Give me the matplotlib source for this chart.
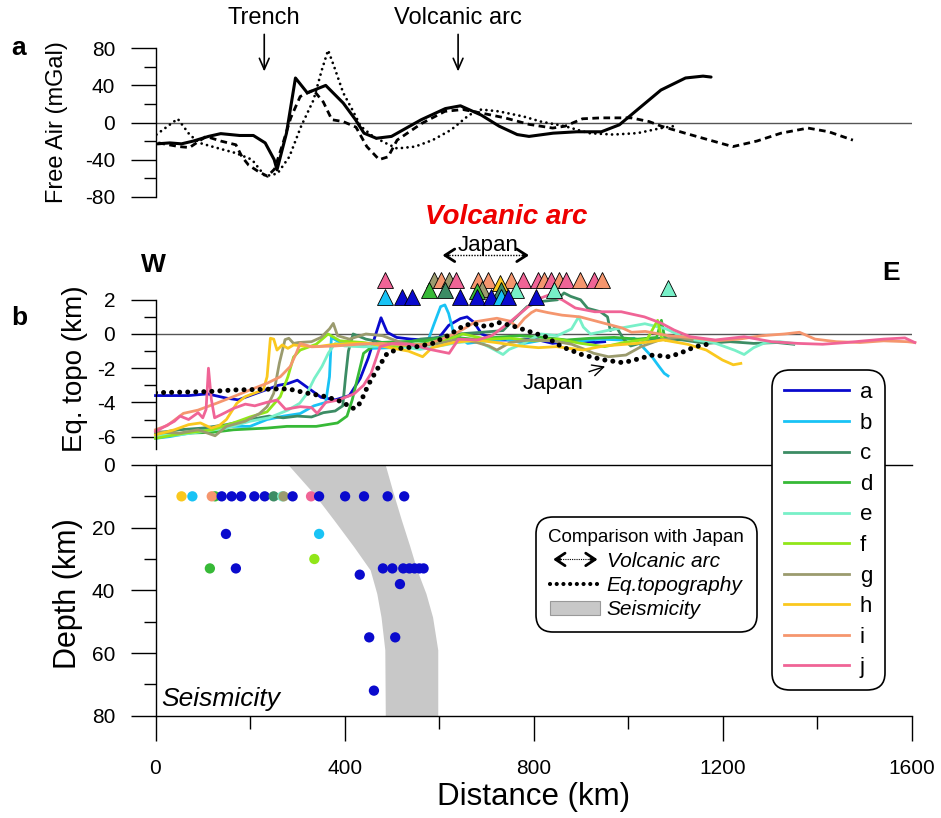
import numpy as np
import matplotlib.pyplot as plt
from matplotlib.lines import Line2D
from matplotlib.patches import Patch, FancyArrowPatch
from matplotlib.legend_handler import HandlerBase
from matplotlib.ticker import FixedLocator

plt.rcParams['font.family'] = ['Liberation Sans', 'DejaVu Sans']
plt.rcParams['axes.unicode_minus'] = False

# ---------------- (a) free-air gravity profiles ----------------
fa_solid_km = [4, 30, 55, 80, 112, 138, 178, 207, 232, 251, 257, 277, 296, 321, 360, 397, 423, 441, 467,
               499, 562, 613, 645, 689, 727, 765, 790, 841, 891, 943, 981, 1019, 1069, 1121, 1158, 1175]
fa_solid = [-23, -22, -23, -20, -15, -12, -14, -14, -22, -40, -51, -11.5, 48, 32, 40, 21, 3, -11.5, -17,
            -15, 3, 15, 18, 8, -4, -13, -15, -11.5, -10, -10, -2.5, 13.7, 35, 48, 50, 49]

fa_dash_km = [6, 50, 72, 107, 138, 170, 183, 197, 218, 237, 252, 271, 286, 306, 334, 355, 373, 397, 424,
              447, 473, 492, 511, 563, 612, 650, 691, 739, 790, 840, 866, 903, 942, 1006, 1044, 1070, 1120,
              1172, 1221, 1272, 1323, 1380, 1424, 1475]
fa_dash = [-22, -26, -27, -15, -20, -24, -37, -46, -53, -58, -50, -20, 5, 28, 35, 22, 3, 1, -5,
           -26, -40, -37, -19, -1, 12, 14, 10, 5, -2, -6, -4, 4, 5, 5, 1, -4, -11.5,
           -19, -26, -20, -11.5, -6, -10, -19]

fa_dot_km = [2, 47, 72, 93, 120, 170, 204, 232, 258, 283, 308, 334, 352, 365, 378, 397, 416, 434, 460,
             486, 511, 549, 586, 625, 663, 689, 726, 778, 815, 866, 917, 968, 1019, 1070, 1095]
fa_dot = [-13, 4, -13, -22, -26, -33, -40, -58, -55, -37, -4, 24, 57, 78, 60, 32, 14, -4, -15,
          -22, -28, -26, -19, -8, 8, 14, 12, 6.5, 1, -4, -11.5, -13, -11.5, -6, -4]

fa_ticks = [-80, -40, 0, 40, 80]
trench_km = 230
arc_km = 640

# ---------------- (b) equivalent topography profiles ----------------
a_km = [0, 30, 70, 110, 150, 175, 200, 230, 260, 280, 300, 325, 350, 380, 410, 433, 450, 466, 477, 490, 510,
        540, 570, 600, 620, 645, 659, 673, 690, 720, 750, 780, 810, 840, 870, 900, 930, 950]
a_topo = [-3.6, -3.6, -3.6, -3.5, -3.75, -3.85, -3.6, -3.3, -3.0, -2.9, -2.7, -3.2, -3.7, -3.85, -3.6, -2.6,
          -1.4, 0.0, 0.95, 0.1, -0.2, -0.3, -0.35, -0.2, 0.5, 0.9, 1.0, 0.7, 0.0, -0.35, -0.35, -0.3, -0.35,
          -0.55, -0.45, -0.4, -0.5, -0.45]

b_km = [0, 30, 70, 110, 165, 200, 236, 271, 306, 335, 360, 368, 372, 390, 430, 460, 500, 540, 575, 588,
        603, 612, 620, 630, 660, 700, 740, 780, 820, 860, 900, 940, 985, 1012, 1030, 1050, 1065, 1076, 1084]
b_topo = [-6.1, -6.0, -5.8, -5.6, -5.4, -5.4, -5.0, -4.8, -4.65, -4.2, -4.0, -2.5, -0.2, -0.5, -0.6, -0.84,
          -0.8, -0.7, -0.5, 0.5, 1.6, 1.7, 1.2, 0.1, -0.55, -0.4, -0.3, -0.55, -0.35, -0.45, -0.4, -0.3,
          -0.35, -0.25, -0.74, -1.33, -1.9, -2.3, -2.45]

c_km = [0, 50, 100, 150, 200, 240, 270, 300, 330, 355, 380, 396, 402, 408, 418, 445, 480, 520, 560, 600,
        640, 690, 735, 760, 786, 815, 850, 864, 878, 899, 914, 941, 956, 962, 975, 990, 1005, 1030, 1065,
        1115, 1165, 1215, 1265, 1315, 1350]
c_topo = [-5.8, -5.6, -5.5, -5.3, -5.0, -4.8, -4.9, -4.8, -4.85, -4.6, -4.5, -4.2, -2.5, -1.0, 0.0, -0.3,
          -0.5, -0.6, -0.3, -0.2, 0.0, 0.1, 0.2, 0.9, 1.6, 1.9, 2.0, 2.4, 2.2, 2.0, 1.5, 1.3, 1.0, 0.2, 0.4,
          -0.3, -0.7, -0.5, -0.25, -0.35, -0.55, -0.45, -0.55, -0.5, -0.6]

d_km = [0, 60, 120, 165, 236, 278, 306, 340, 385, 405, 416, 428, 440, 470, 520, 570, 620, 670, 720, 770,
        820, 870, 920, 970, 1020, 1060, 1070, 1076, 1082]
d_topo = [-5.9, -5.8, -5.75, -5.6, -5.5, -5.4, -5.4, -5.4, -5.2, -4.8, -3.86, -2.5, -1.13, -0.5, -0.45,
          -0.4, -0.16, -0.3, -0.2, -0.1, -0.2, -0.35, -0.25, -0.2, -0.3, -0.2, 0.8, -0.1, -0.3]

e_km = [0, 50, 100, 150, 200, 240, 280, 305, 320, 336, 352, 366, 380, 400, 440, 480, 520, 560, 600, 640,
        680, 715, 735, 748, 775, 815, 850, 880, 895, 905, 920, 955, 995, 1035, 1080, 1110, 1140, 1180,
        1225, 1245, 1265, 1290, 1320, 1350]
e_topo = [-5.95, -5.9, -5.7, -5.5, -5.1, -4.9, -4.45, -4.05, -3.5, -2.6, -1.9, -1.1, -0.55, -0.7, -0.75,
          -0.7, -0.75, -0.9, -0.7, -0.5, -0.4, -0.9, -1.2, -0.9, -0.6, 0.0, -0.1, 0.3, 1.0, 0.4, 0.0, 0.2,
          0.4, 0.6, 0.3, -0.1, -0.35, -0.5, -0.95, -1.2, -0.8, -0.5, -0.45, -0.55]

f_km = [0, 60, 120, 165, 200, 236, 264, 280, 292, 306, 340, 365, 390, 440, 500, 560, 610, 650, 700, 750,
        800, 850, 900, 950, 990, 1040, 1062, 1070, 1078]
f_topo = [-6.1, -5.8, -5.6, -5.2, -4.85, -4.55, -3.66, -2.5, -1.35, -0.94, -0.6, 0.0, -0.4, -0.5, -0.74,
          -0.6, -0.4, 0.0, -0.3, -0.25, -0.4, -0.3, -0.55, -0.74, -0.5, -0.3, 0.8, -0.2, -0.35]

g_km = [0, 50, 90, 126, 150, 190, 220, 236, 250, 262, 274, 282, 292, 302, 330, 350, 368, 376, 385, 410,
        445, 480, 520, 560, 600, 640, 680, 705, 722, 750, 790, 840, 880, 908, 927, 958, 995, 1027, 1066,
        1106, 1135]
g_topo = [-5.7, -5.8, -5.6, -5.95, -5.4, -5.1, -4.65, -4.25, -3.47, -1.7, -0.33, -0.25, -0.55, -0.5, -0.45,
          -0.2, 0.3, 0.62, -0.1, -0.3, 0.0, -0.1, -0.5, -0.7, -0.55, -0.3, -0.5, -0.7, -0.94, -0.5, -0.35,
          -0.4, -0.6, -0.9, -1.13, -1.33, -1.23, -0.74, -0.35, -0.2, -0.35]

h_km = [0, 40, 70, 95, 118, 135, 150, 172, 190, 205, 228, 236, 243, 250, 257, 268, 280, 292, 310, 342, 380,
        420, 456, 495, 535, 565, 585, 630, 677, 720, 770, 810, 848, 904, 948, 1018, 1074, 1125, 1165, 1199,
        1222, 1238]
h_topo = [-5.9, -5.6, -5.3, -5.2, -5.5, -5.35, -5.0, -4.05, -3.66, -3.5, -3.27, -2.5, -0.25, -0.3, -0.94,
          -0.64, -0.84, -0.64, -0.7, -0.74, -0.6, -0.55, -0.55, -0.8, -1.0, -1.33, -0.8, -0.5, -0.35, -0.5,
          -0.7, -0.8, -0.74, -0.94, -0.7, -0.55, -0.35, -0.6, -0.94, -1.52, -1.8, -1.72]

i_km = [0, 25, 59, 90, 129, 165, 200, 236, 264, 285, 298, 306, 330, 380, 430, 480, 530, 575, 605, 632, 652,
        677, 722, 750, 765, 780, 795, 805, 830, 860, 898, 950, 987, 1007, 1036, 1085, 1131, 1185, 1234,
        1283, 1330, 1362, 1395, 1440, 1490, 1540, 1590, 1606]
i_topo = [-5.6, -5.35, -4.64, -4.45, -4.05, -3.66, -3.27, -2.88, -2.5, -1.9, -1.1, -0.55, -0.75, -0.7, -0.6,
          -0.55, -0.65, -0.6, -0.3, 0.0, 0.3, 0.72, 0.92, 0.75, 0.4, 0.9, 1.25, 1.4, 1.25, 1.1, 1.0, 0.62,
          0.35, 0.1, 0.15, -0.1, -0.2, -0.4, -0.3, -0.1, 0.0, 0.1, -0.3, -0.45, -0.5, -0.4, -0.45, -0.5]

j_km = [0, 20, 40, 52, 70, 90, 100, 107, 112, 118, 125, 140, 165, 190, 210, 235, 257, 275, 306, 330, 342,
        360, 387, 420, 440, 456, 475, 500, 540, 580, 621, 641, 681, 711, 746, 780, 805, 832, 860, 888, 929,
        985, 1034, 1069, 1097, 1131, 1184, 1245, 1303, 1358, 1411, 1461, 1500, 1540, 1585, 1606]
j_topo = [-5.7, -5.4, -5.1, -4.8, -5.0, -4.6, -4.9, -4.4, -2.0, -3.8, -4.9, -4.7, -4.35, -4.1, -4.2, -4.0,
          -3.86, -4.4, -4.25, -4.3, -4.64, -4.0, -3.86, -3.5, -3.0, -2.3, -0.74, -0.55, -0.6, -0.9, -1.13,
          -0.3, -0.35, -0.1, 0.62, 1.4, 2.0, 2.28, 2.0, 1.52, 1.3, 1.3, 1.0, 0.64, 0.23, -0.16, -0.35,
          -0.16, -0.45, -0.55, -0.6, -0.5, -0.4, -0.3, -0.23, -0.5]

japan_km = [0, 111, 167, 224, 269, 292, 315, 360, 394, 417, 428, 439, 450, 468, 490, 518, 553, 586, 621, 654,
            677, 700, 727, 756, 791, 825, 859, 904, 950, 989, 1018, 1052, 1086, 1109, 1142, 1171]
japan_topo = [-3.43, -3.37, -3.27, -3.24, -3.2, -3.27, -3.43, -3.66, -3.96, -4.35, -4.25, -3.66, -2.98, -2.1,
              -1.13, -0.84, -0.74, -0.55, -0.06, 0.53, 0.58, 0.43, 0.66, 0.47, 0.14, -0.16, -0.74, -1.23,
              -1.52, -1.68, -1.48, -1.23, -1.33, -1.13, -0.74, -0.58]

profile_labels = list('abcdefghij')
profile_colors = ['#0A0ACD', '#19C3F5', '#3C8C64', '#37B937', '#78F0C8',
                  '#91E619', '#9B9B6E', '#FAC81E', '#F5966E', '#F06496']
profile_km = [a_km, b_km, c_km, d_km, e_km, f_km, g_km, h_km, i_km, j_km]
profile_topo = [a_topo, b_topo, c_topo, d_topo, e_topo, f_topo, g_topo, h_topo, i_topo, j_topo]

# volcanoes (km, elevation row, profile)
volc_km = [486, 588, 603, 620, 636, 682, 703, 751, 778, 808, 822, 837, 853, 869, 897, 928, 945, 728,
           578, 613, 690, 680, 731, 762, 843, 1083,
           485, 521, 543, 644, 680, 709, 730, 745, 804]
volc_row = [3.15] * 17 + [3.0] + [2.6, 2.55, 2.65, 2.5, 2.55, 2.6, 2.6, 2.7] + [2.15] * 9
volc_prof = list('jgigjiiijjijijiji') + ['h'] + list('dcgdceee') + list('baaaaabaa')

# ---------------- (c) seismicity ----------------
eq_km = [55, 78, 126, 119, 140, 161, 181, 209, 231, 250, 268, 271, 290, 329, 346, 401, 441, 491, 526,
         149, 346, 336, 115, 170, 481, 501, 524, 537, 548, 558, 567, 432, 517, 452, 507, 462]
eq_depth = [10] * 19 + [22, 22, 30, 33, 33, 33, 33, 33, 33, 33, 33, 33, 35, 38, 55, 55, 72]
eq_prof = list('hbdiaaaaacegajaaaaa') + list('abfd') + ['a'] * 13

band_depth = [0, 9, 17.5, 26, 33.5, 41, 48.5, 59, 80]
band_left = [281, 334, 377, 419, 454, 468, 477, 485, 486]
band_right = [486, 503, 520, 538, 553, 572, 586, 597, 597]

dist_ticks = [0, 400, 800, 1200, 1600]

# ---------------- figure ----------------
W, H = 941, 818
fig = plt.figure(figsize=(W / 100, H / 100), dpi=100)


def px_axes(x0, y0, x1, y1):
    return fig.add_axes([x0 / W, 1 - y1 / H, (x1 - x0) / W, (y1 - y0) / H])


ax_a = px_axes(155.5, 48.3, 912, 196.7)
ax_b = px_axes(155.5, 255.3, 912, 448.6)
ax_c = px_axes(155.5, 465, 912, 715.7)

for ax in (ax_a, ax_b, ax_c):
    ax.set_xlim(0, 1600)
    ax.patch.set_alpha(0)
    ax.tick_params(which='major', direction='out', length=18, width=1.0, labelsize=15, pad=11)
    ax.tick_params(which='minor', direction='out', length=9, width=1.0)
    for s in ax.spines.values():
        s.set_linewidth(1.0)
    ax.spines['right'].set_visible(False)

for ax in (ax_a, ax_b):
    ax.spines['top'].set_visible(False)
    ax.spines['bottom'].set_visible(False)
    ax.tick_params(axis='x', which='both', bottom=False, labelbottom=False)
    ax.axhline(0, color='#555555', lw=1.0, zorder=1)

# panel a
ax_a.set_ylim(-80, 80)
ax_a.set_yticks(fa_ticks)
ax_a.yaxis.set_minor_locator(FixedLocator([-60, -20, 20, 60]))
ax_a.plot(fa_solid_km, fa_solid, color='k', lw=2.2, solid_capstyle='round')
ax_a.plot(fa_dash_km, fa_dash, color='k', lw=2.0, ls=(0, (2.4, 1.6)))
ax_a.plot(fa_dot_km, fa_dot, color='k', lw=2.0, ls=(0, (0.01, 2.0)), dash_capstyle='round')
ax_a.set_ylabel('Free Air (mGal)', fontsize=17)
ax_a.yaxis.set_label_coords(-0.116, 0.5)
for xk, lab in ((trench_km, 'Trench'), (arc_km, 'Volcanic arc')):
    ax_a.annotate('', xy=(xk, 52), xytext=(xk, 98), annotation_clip=False,
                  arrowprops=dict(arrowstyle='->,head_length=0.8,head_width=0.35', lw=1.2, color='k'))
    ax_a.text(xk, 101, lab, ha='center', va='bottom', fontsize=17)

# panel b
ax_b.set_ylim(-6.7, 4.6)
ax_b.spines['left'].set_bounds(-6.7, 2)
ax_b.set_yticks([-6, -4, -2, 0, 2])
ax_b.yaxis.set_minor_locator(FixedLocator([-5, -3, -1, 1]))
prof_lines = []
for km, tp, col in zip(profile_km, profile_topo, profile_colors):
    ln, = ax_b.plot(km, tp, color=col, lw=2.0, clip_on=False)
    prof_lines.append(ln)
ax_b.plot(japan_km, japan_topo, color='k', lw=3.6, ls=(0, (0.01, 1.6)), dash_capstyle='round', zorder=5)
color_of = dict(zip(profile_labels, profile_colors))
for xk, yr, p in zip(volc_km, volc_row, volc_prof):
    ax_b.plot(xk, yr, marker='^', ms=12, color=color_of[p], mec='k', mew=0.6, clip_on=False, zorder=4)
ax_b.set_ylabel('Eq. topo (km)', fontsize=20)
ax_b.yaxis.set_label_coords(-0.089, 0.412)
ax_b.text(741, 6.86, 'Volcanic arc', color='#EE0000', fontsize=20, fontweight='bold', style='italic',
          ha='center', va='center')
ax_b.text(703, 5.2, 'Japan', fontsize=16, ha='center', va='center')
ax_b.plot([615, 782], [4.6, 4.6], color='k', lw=1.0, ls=(0, (1, 1)), clip_on=False)
ax_b.annotate('', xy=(601, 4.6), xytext=(625, 4.6), annotation_clip=False,
              arrowprops=dict(arrowstyle='->,head_length=0.7,head_width=0.45', lw=2.0, color='k'))
ax_b.annotate('', xy=(796, 4.6), xytext=(772, 4.6), annotation_clip=False,
              arrowprops=dict(arrowstyle='->,head_length=0.7,head_width=0.45', lw=2.0, color='k'))
ax_b.annotate('Japan', xy=(951, -1.9), xytext=(841, -2.87), fontsize=16, ha='center', va='center',
              arrowprops=dict(arrowstyle='->,head_length=0.5,head_width=0.25', lw=1.0, color='k',
                              shrinkA=2, shrinkB=0))
ax_b.text(-4, 4.04, 'W', fontsize=19, fontweight='bold', ha='center', va='center')
ax_b.text(1555, 3.57, 'E', fontsize=19, fontweight='bold', ha='center', va='center')

# panel c
ax_c.fill_betweenx(band_depth, band_left, band_right, color='#C8C8C8', lw=0, zorder=1)
ax_c.scatter(eq_km, eq_depth, s=55, c=[color_of[p] for p in eq_prof], lw=0, zorder=3, clip_on=False)
ax_c.set_ylim(80, 0)
ax_c.set_yticks([0, 20, 40, 60, 80])
ax_c.yaxis.set_minor_locator(FixedLocator([10, 30, 50, 70]))
ax_c.set_xticks(dist_ticks)
ax_c.xaxis.set_minor_locator(FixedLocator([200, 600, 1000, 1400]))
ax_c.tick_params(axis='x', pad=13)
ax_c.set_ylabel('Depth (km)', fontsize=22)
ax_c.yaxis.set_label_coords(-0.096, 0.485)
ax_c.set_xlabel('Distance (km)', fontsize=22.5, labelpad=3)
ax_c.text(12, 77, 'Seismicity', fontsize=19, style='italic', va='baseline', ha='left')

fig.text(19 / W, 1 - 48 / H, 'a', fontsize=19, fontweight='bold', ha='center', va='center')
fig.text(19 / W, 1 - 318 / H, 'b', fontsize=19, fontweight='bold', ha='center', va='center')


# legends
class DoubleArrowHandler(HandlerBase):
    def create_artists(self, legend, orig_handle, xdescent, ydescent, width, height, fontsize, trans):
        y = height / 2 - ydescent
        x0, x1 = -xdescent, -xdescent + width
        shaft = Line2D([x0 + 4, x1 - 4], [y, y], color='k', lw=0.8, ls=(0, (1, 1)), transform=trans)
        heads = []
        for tip, tail in ((x0, x0 + 9), (x1, x1 - 9)):
            heads.append(FancyArrowPatch((tail, y), (tip, y), arrowstyle='->,head_length=0.45,head_width=0.3',
                                         mutation_scale=fontsize, lw=2.0, color='k', transform=trans))
        return [shaft] + heads


arrow_handle = Line2D([], [], color='k')
eq_handle = Line2D([], [], color='k', lw=3.0, ls=(0, (0.01, 1.6)), dash_capstyle='round')
band_handle = Patch(facecolor='#C8C8C8', edgecolor='#999999', lw=0.8)
leg1 = fig.legend([arrow_handle, eq_handle, band_handle], ['Volcanic arc', 'Eq.topography', 'Seismicity'],
                  title='Comparison with Japan', title_fontsize=13.5, prop=dict(style='italic', size=15),
                  loc='upper left', bbox_to_anchor=(536 / W, 1 - 517 / H), borderaxespad=0,
                  handlelength=2.4, handletextpad=0.3, labelspacing=0.25, borderpad=0.6,
                  handler_map={arrow_handle: DoubleArrowHandler()}, framealpha=1, edgecolor='k',
                  fancybox=True)
leg1.get_frame().set_linewidth(1.2)
leg1.get_frame().set_boxstyle('round,pad=0,rounding_size=0.8')

leg2 = fig.legend(prof_lines, profile_labels, loc='upper left', bbox_to_anchor=(772 / W, 1 - 370 / H),
                  borderaxespad=0, fontsize=16, handlelength=2.9, handletextpad=0.5, labelspacing=0.43,
                  borderpad=0.55, framealpha=1, edgecolor='k', fancybox=True)
leg2.get_frame().set_linewidth(1.2)
leg2.get_frame().set_boxstyle('round,pad=0,rounding_size=0.8')

fig.savefig('out.png', dpi=100, facecolor='white')
